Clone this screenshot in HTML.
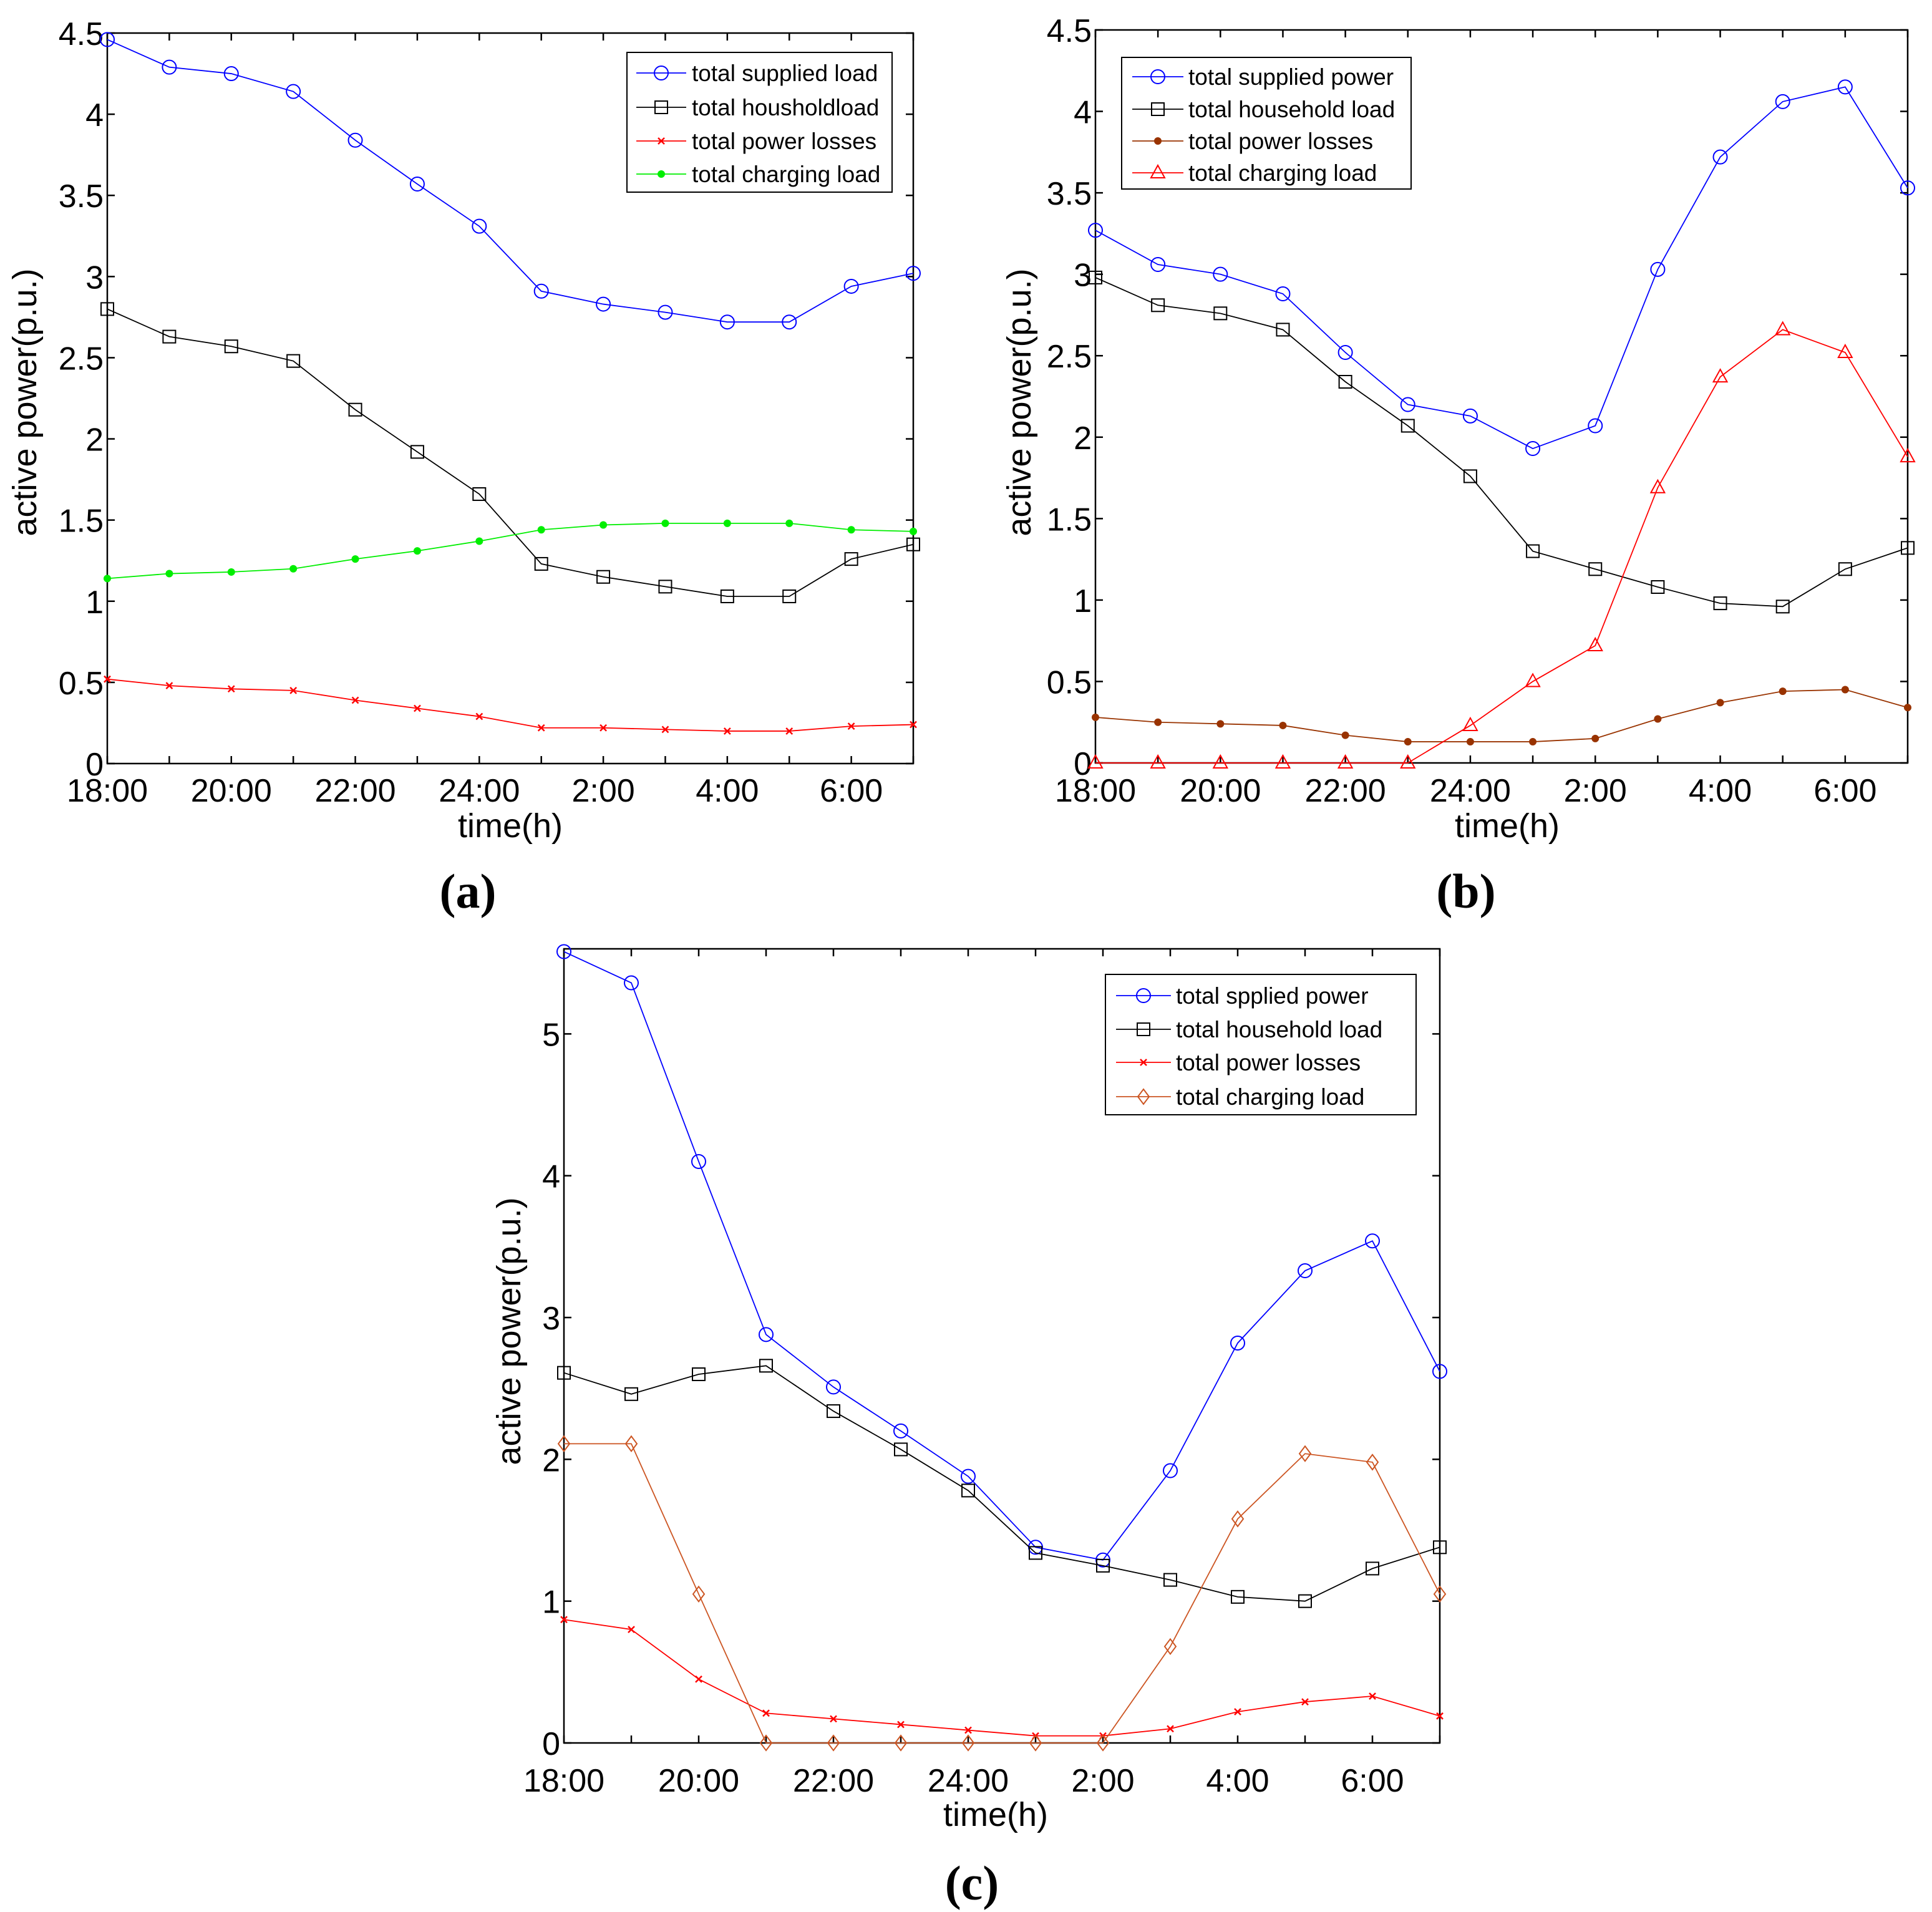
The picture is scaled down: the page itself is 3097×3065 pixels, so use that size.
<!DOCTYPE html>
<html><head><meta charset="utf-8"><style>
html,body{margin:0;padding:0;background:#fff;}
svg{display:block;}
text{font-family:"Liberation Sans",Arial,sans-serif;}
text.cap{font-family:"Liberation Serif","Times New Roman",serif;}
</style></head><body>
<svg id="fig" width="3097" height="3065" viewBox="0 0 3097 3065" xmlns="http://www.w3.org/2000/svg"></svg>
<script>
const hours = ["18","19","20","21","22","23","24","1","2","3","4","5","6","7"];
const xTickLabels = ["18:00","20:00","22:00","24:00","2:00","4:00","6:00"];
// panel a
const aSupplied = [4.46,4.29,4.25,4.14,3.84,3.57,3.31,2.91,2.83,2.78,2.72,2.72,2.94,3.02];
const aHousehold = [2.80,2.63,2.57,2.48,2.18,1.92,1.66,1.23,1.15,1.09,1.03,1.03,1.26,1.35];
const aLosses = [0.52,0.48,0.46,0.45,0.39,0.34,0.29,0.22,0.22,0.21,0.20,0.20,0.23,0.24];
const aCharging = [1.14,1.17,1.18,1.20,1.26,1.31,1.37,1.44,1.47,1.48,1.48,1.48,1.44,1.43];
const aYTicks = [0,0.5,1,1.5,2,2.5,3,3.5,4,4.5];
// panel b
const bSupplied = [3.27,3.06,3.00,2.88,2.52,2.20,2.13,1.93,2.07,3.03,3.72,4.06,4.15,3.53];
const bHousehold = [2.98,2.81,2.76,2.66,2.34,2.07,1.76,1.30,1.19,1.08,0.98,0.96,1.19,1.32];
const bLosses = [0.28,0.25,0.24,0.23,0.17,0.13,0.13,0.13,0.15,0.27,0.37,0.44,0.45,0.34];
const bCharging = [0,0,0,0,0,0,0.23,0.50,0.72,1.69,2.37,2.66,2.52,1.88];
const bYTicks = [0,0.5,1,1.5,2,2.5,3,3.5,4,4.5];
// panel c
const cSupplied = [5.58,5.36,4.10,2.88,2.51,2.20,1.88,1.38,1.29,1.92,2.82,3.33,3.54,2.62];
const cHousehold = [2.61,2.46,2.60,2.66,2.34,2.07,1.78,1.34,1.25,1.15,1.03,1.00,1.23,1.38];
const cLosses = [0.87,0.80,0.45,0.21,0.17,0.13,0.09,0.05,0.05,0.10,0.22,0.29,0.33,0.19];
const cCharging = [2.11,2.11,1.05,0,0,0,0,0,0,0.68,1.58,2.04,1.98,1.05];
const cYTicks = [0,1,2,3,4,5];

const NS="http://www.w3.org/2000/svg";
const svg=document.getElementById('fig');
function mk(tag,attrs,parent){const e=document.createElementNS(NS,tag);for(const k in attrs)e.setAttribute(k,attrs[k]);(parent||svg).appendChild(e);return e;}

function marker(g,type,x,y,color){
  let m;
  if(type==='circle'){m=mk('circle',{cx:x,cy:y,r:11,fill:'none',stroke:color,'stroke-width':2},g);}
  else if(type==='square'){m=mk('rect',{x:x-10,y:y-10,width:20,height:20,fill:'none',stroke:color,'stroke-width':2},g);}
  else if(type==='x'){m=mk('path',{d:`M${x-5},${y-5}L${x+5},${y+5}M${x+5},${y-5}L${x-5},${y+5}`,stroke:color,'stroke-width':2.5},g);}
  else if(type==='dot'){m=mk('circle',{cx:x,cy:y,r:5.5,fill:color,stroke:color},g);}
  else if(type==='tri'){m=mk('path',{d:`M${x},${y-12}L${x+11},${y+8}L${x-11},${y+8}Z`,fill:'none',stroke:color,'stroke-width':2},g);}
  else if(type==='diamond'){m=mk('path',{d:`M${x},${y-12}L${x+9},${y}L${x},${y+12}L${x-9},${y}Z`,fill:'none',stroke:color,'stroke-width':2},g);}
  return m;
}

function panel(cfg){
  const g=mk('g',{});
  
  
  const {L,R,T,B,ymax}=cfg;
  const xs=i=>L+(R-L)*i/(hours.length-1);
  const ys=v=>B-(B-T)*v/ymax;
  const box=mk('rect',{x:L,y:T,width:R-L,height:B-T,fill:'none',stroke:'#000','stroke-width':2.5},g);
  
  
  hours.forEach((h,i)=>{
    const x=xs(i);
    mk('line',{x1:x,y1:B,x2:x,y2:B-12,stroke:'#000','stroke-width':2.5},g);
    mk('line',{x1:x,y1:T,x2:x,y2:T+12,stroke:'#000','stroke-width':2.5},g);
  });
  xTickLabels.forEach((lab,k)=>{
    const t=mk('text',{x:xs(k*2),y:cfg.tickY,'font-size':52,'text-anchor':'middle'},g);
    t.textContent=lab;
    
    
  });
  cfg.yTicks.forEach(v=>{
    const y=ys(v);
    mk('line',{x1:L,y1:y,x2:L+12,y2:y,stroke:'#000','stroke-width':2.5},g);
    mk('line',{x1:R,y1:y,x2:R-12,y2:y,stroke:'#000','stroke-width':2.5},g);
    const t=mk('text',{x:L-6,y:y+19,'font-size':52,'text-anchor':'end'},g);
    t.textContent=String(v);
    
    
  });
  cfg.series.forEach(s=>{
    const sg=mk('g',{},g);
    
    
    const pts=s.data.map((v,i)=>xs(i)+','+ys(v)).join(' ');
    mk('polyline',{points:pts,fill:'none',stroke:s.color,'stroke-width':1.8},sg);
    s.data.forEach((v,i)=>{
      const m=marker(sg,s.m,xs(i),ys(v),s.color);
      
      
    });
  });
  const lg=cfg.legend;
  const leg=mk('g',{},g);
  
  
  mk('rect',{x:lg.x1,y:lg.y1,width:lg.x2-lg.x1,height:lg.y2-lg.y1,fill:'#fff',stroke:'#000','stroke-width':2},leg);
  cfg.series.forEach((s,k)=>{
    const y=lg.rows[k];
    const e=mk('g',{},leg);
    
    
    mk('line',{x1:lg.l1,y1:y,x2:lg.l2,y2:y,stroke:s.color,'stroke-width':1.8},e);
    marker(e,s.m,(lg.l1+lg.l2)/2,y,s.color);
    const t=mk('text',{x:lg.tx,y:y+13,'font-size':37},e);
    t.textContent=s.label;
  });
  const xl=mk('text',{x:cfg.xlab[0],y:cfg.xlab[1],'font-size':54,'text-anchor':'middle'},g);
  xl.textContent='time(h)';
  
  
  const yl=mk('text',{x:0,y:0,'font-size':54,'text-anchor':'middle',transform:`translate(${cfg.ylab[0]},${cfg.ylab[1]}) rotate(-90)`},g);
  yl.textContent='active power(p.u.)';
  
  
  const cap=mk('text',{x:cfg.cap[0],y:cfg.cap[1],'font-size':78,'font-weight':'bold','text-anchor':'middle','class':'cap'},g);
  cap.textContent=cfg.capText;
  
  
}

panel({name:'panel-a',L:172,R:1464,T:53,B:1224,ymax:4.5,yTicks:aYTicks,tickY:1285,
  series:[
   {id:'a-supplied',label:'total supplied load',data:aSupplied,color:'#0000ff',m:'circle'},
   {id:'a-household',label:'total housholdload',data:aHousehold,color:'#000000',m:'square'},
   {id:'a-losses',label:'total power losses',data:aLosses,color:'#ff0000',m:'x'},
   {id:'a-charging',label:'total charging load',data:aCharging,color:'#00ee00',m:'dot'}],
  legend:{x1:1005,x2:1430,y1:84,y2:308,rows:[117,172,226,279],l1:1020,l2:1100,tx:1109},
  xlab:[818,1342],ylab:[58,645],cap:[750,1455],capText:'(a)'});

panel({name:'panel-b',L:1756,R:3058,T:48,B:1223,ymax:4.5,yTicks:bYTicks,tickY:1285,
  series:[
   {id:'b-supplied',label:'total supplied power',data:bSupplied,color:'#0000ff',m:'circle'},
   {id:'b-household',label:'total household load',data:bHousehold,color:'#000000',m:'square'},
   {id:'b-losses',label:'total power losses',data:bLosses,color:'#993300',m:'dot'},
   {id:'b-charging',label:'total charging load',data:bCharging,color:'#ff0000',m:'tri'}],
  legend:{x1:1798,x2:2262,y1:92,y2:303,rows:[123,175,226,277],l1:1815,l2:1897,tx:1905},
  xlab:[2416,1342],ylab:[1652,645],cap:[2350,1455],capText:'(b)'});

panel({name:'panel-c',L:904,R:2308,T:1521,B:2794,ymax:5.6,yTicks:cYTicks,tickY:2872,
  series:[
   {id:'c-supplied',label:'total spplied power',data:cSupplied,color:'#0000ff',m:'circle'},
   {id:'c-household',label:'total household load',data:cHousehold,color:'#000000',m:'square'},
   {id:'c-losses',label:'total power losses',data:cLosses,color:'#ff0000',m:'x'},
   {id:'c-charging',label:'total charging load',data:cCharging,color:'#cc5522',m:'diamond'}],
  legend:{x1:1772,x2:2270,y1:1562,y2:1787,rows:[1596,1650,1703,1758],l1:1789,l2:1877,tx:1885},
  xlab:[1596,2927],ylab:[834,2134],cap:[1558,3045],capText:'(c)'});
</script>
</body></html>
